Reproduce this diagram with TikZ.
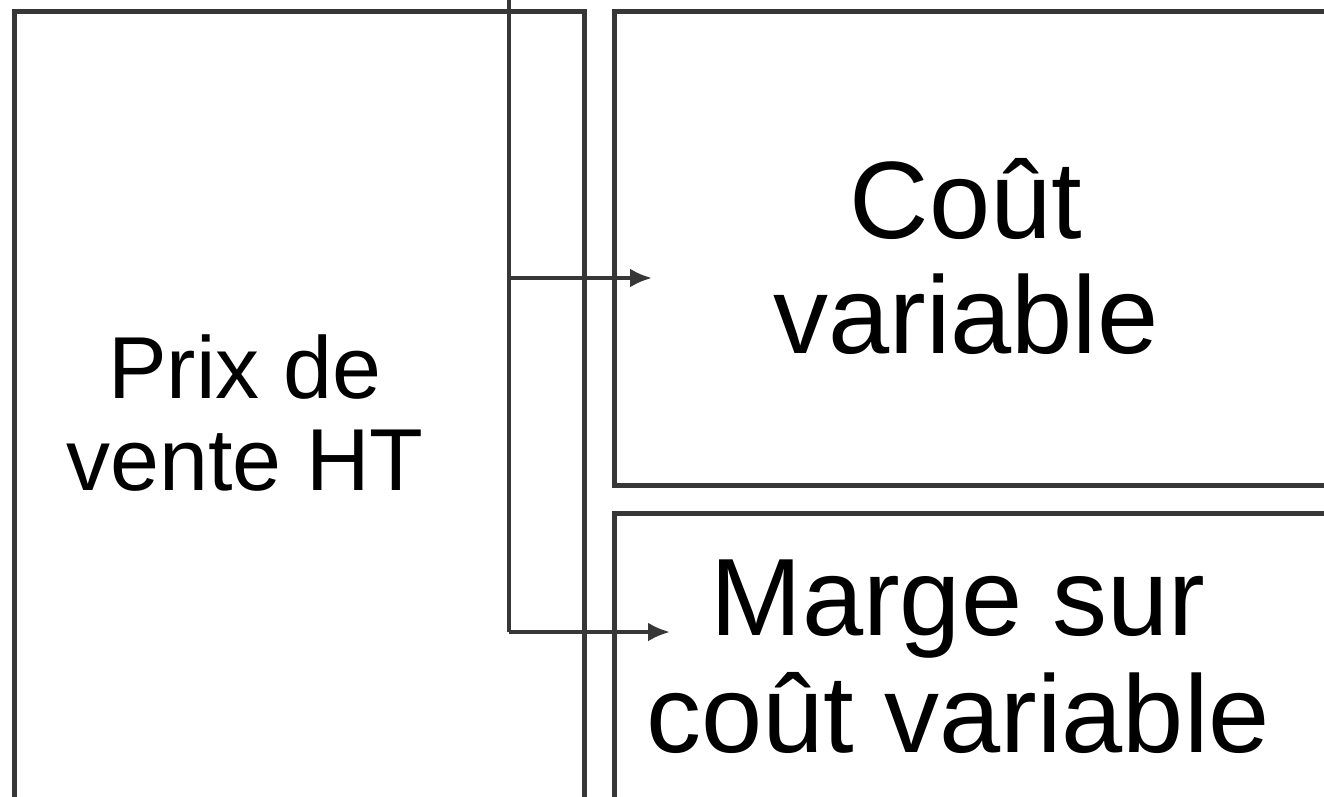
\documentclass[tikz,border=0pt]{standalone}
\usepackage{fontspec}
\setmainfont{Liberation Sans}
\usetikzlibrary{arrows.meta}
\definecolor{edge}{RGB}{55,55,55}
\begin{document}
\begin{tikzpicture}[x=1pt,y=-1pt,
  box/.style={draw=edge,line width=4.5pt},
  conn/.style={draw=edge,line width=4pt},
  arr/.style={conn,-{Latex[length=22pt,width=19pt]}},
  lbl/.style={align=center,anchor=base,inner sep=0pt,text=black}]
\useasboundingbox (0,0) rectangle (1324,796);
\clip (0,0) rectangle (1324,796);
\fill[white] (0,0) rectangle (1324,796);
% boxes
\node[box,rectangle,minimum width=570pt,minimum height=840pt,anchor=north west,inner sep=0pt] (prix) at (12,9) {};
\node[box,rectangle,minimum width=740pt,minimum height=474pt,anchor=north west,inner sep=0pt] (cout) at (612,9) {};
\node[box,rectangle,minimum width=740pt,minimum height=340pt,anchor=north west,inner sep=0pt] (marge) at (612,511) {};
% texts (base = baseline of the last line)
\node[lbl,font=\fontsize{88}{92}\selectfont] (tprix) at (245,490) {Prix de\\vente HT};
\node[lbl,font=\fontsize{110}{115}\selectfont] (tcout) at (966,353) {Coût\\variable};
\node[lbl,font=\fontsize{110}{117}\selectfont] (tmarge) at (958,752) {Marge sur\\coût variable};
% connectors
\coordinate (top) at (509,-20);
\coordinate (j1) at (509,278);
\coordinate (j2) at (509,632);
\coordinate (t1) at (652,278);
\coordinate (t2) at (670,632);
\draw[conn] (top) -- (j2);
\draw[arr] (j1) -- (t1);
\draw[arr] (j2) -- (t2);
\end{tikzpicture}
\end{document}
